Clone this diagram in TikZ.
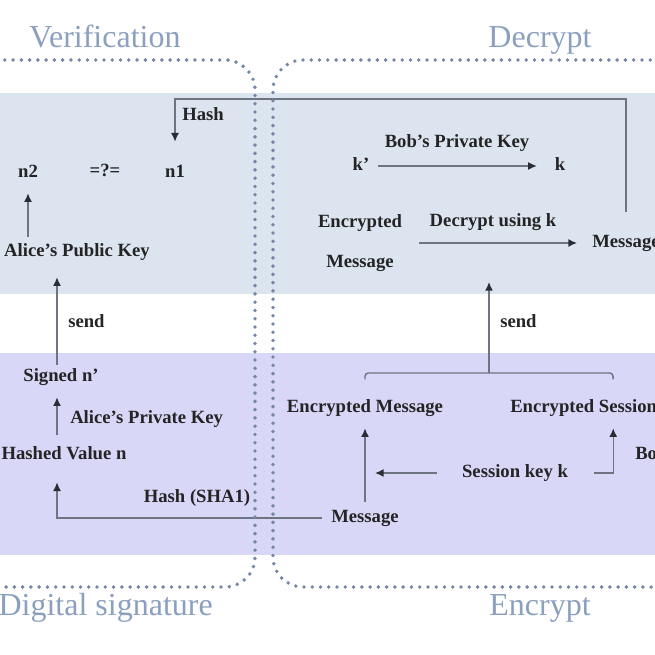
\documentclass[tikz,border=0pt]{standalone}
\usepackage{fontspec}
\setmainfont{Liberation Serif}
\usetikzlibrary{arrows.meta,calc}
\definecolor{bandA}{HTML}{DCE4F0}
\definecolor{bandB}{HTML}{D9D7F8}
\definecolor{dotc}{HTML}{7587A6}
\definecolor{ttlc}{HTML}{8B9FBE}
\definecolor{arrc}{HTML}{6E7480}
\definecolor{tipc}{HTML}{2A2D33}
\definecolor{txtc}{HTML}{242424}
\begin{document}
\begin{tikzpicture}[x=0.75pt,y=-0.75pt,
  lblf/.style={font=\bfseries\fontsize{14}{30}\selectfont, text=txtc, inner sep=0pt},
  lbl/.style={lblf, text height=9.8pt, text depth=2.8pt},
  ttl/.style={font=\fontsize{24}{28}\selectfont, text=ttlc, inner sep=0pt, anchor=base},
  conn/.style={draw=arrc, line width=1.1pt},
  arr/.style={conn, -{Latex[length=6.5pt,width=6pt,color=tipc]}},
  dots/.style={draw=dotc, line width=2.9pt, line cap=round, dash pattern=on 0pt off 6.2pt}]
\useasboundingbox (0,0) rectangle (655,655);
\clip (0,0) rectangle (655,655);
% bands
\fill[bandA] (-10,93) rectangle (665,294);
\fill[bandB] (-10,353) rectangle (665,555);
% titles
\node[ttl] (tver) at (105,48) {Verification};
\node[ttl] (tdec) at (540,48) {Decrypt};
\node[ttl, anchor=base east] (tsig) at (213,615) {Digital signature};
\node[ttl] (tenc) at (540,615) {Encrypt};
% main nodes
\node[lbl] (n2) at (28,173) {n2};
\node[lbl] (eq) at (105,172) {=?=};
\node[lbl] (n1) at (175,173) {n1};
\node[lbl] (apk) at (77,252) {Alice’s Public Key};
\node[lbl] (sgn) at (61,377) {Signed n’};
\node[lbl] (hv) at (64,455) {Hashed Value n};
\node[lbl] (msgL) at (365,518) {Message};
\node[lbl] (em) at (365,408) {Encrypted Message};
\node[lbl, anchor=west] (es) at (510,408) {Encrypted Session Key};
\node[lbl] (sk) at (515,473) {Session key k};
\node[lbl, anchor=west] (bo) at (635,455) {Bob’s Public Key};
\node[lblf, align=center] (emtop) at (360,243) {Encrypted\\Message};
\node[lbl] (kp) at (361,166) {k’};
\node[lbl] (kk) at (560,166) {k};
\node[lbl, anchor=west] (msgR) at (592,243) {Message};
% edge labels
\node[lbl, anchor=west] (lhash) at (182,116) {Hash};
\node[lbl, anchor=west] (lsend1) at (68,323) {send};
\node[lbl, anchor=west] (lapk) at (70,419) {Alice’s Private Key};
\node[lbl] (lsha) at (197,498) {Hash (SHA1)};
\node[lbl] (lbpk) at (457,143) {Bob’s Private Key};
\node[lbl] (ldec) at (493,222) {Decrypt using k};
\node[lbl, anchor=west] (lsend2) at (500,323) {send};
% coordinates
\coordinate (htop) at (400,99);
\coordinate (brk) at (489,373);
\coordinate (sendtip) at (489,282);
% connectors
\draw[arr, shorten <=17pt, shorten >=17pt] (msgR.north) |- (htop) -| (n1.north);
\draw[arr, shorten <=5pt, shorten >=8.7pt] (n2 |- apk.north) -- (n2.south);
\draw[arr, shorten <=2.7pt, shorten >=12.4pt] ([xshift=-3pt]sgn.north) -- ([xshift=-3pt]sgn.north |- apk.south);
\draw[arr, shorten <=8.7pt, shorten >=8.7pt] ([xshift=-3pt]sgn.south |- hv.north) -- ([xshift=-3pt]sgn.south);
\draw[arr, shorten <=7pt, shorten >=14pt] (msgL.west) -| ([xshift=-3pt]sgn.south |- hv.south);
\draw[arr, shorten <=5.7pt, shorten >=8.7pt] (msgL.north) -- (em.south);
\draw[arr, shorten <=18.8pt, shorten >=7.5pt] (sk.west) -- (sk.west -| em.south);
\draw[arr, shorten <=19.5pt, shorten >=8.7pt] (sk.east) -| ([xshift=8.4pt]es.south);
\draw[conn, rounded corners=2.5pt] ($(em.north)+(0,-20)$) |- (brk) -| ($(es.north)+(11,-20)$);
\draw[arr] (brk) -- (sendtip);
\draw[arr, shorten <=6.5pt, shorten >=13.3pt] (kp.east) -- (kk.west);
\draw[arr, shorten <=12.75pt, shorten >=11.25pt] (emtop.east) -- (msgR.west);
% dotted frames
\draw[dots, rounded corners=22.5pt] (-20,60) -- (255,60) -- (255,587) -- (-20,587);
\draw[dots, rounded corners=22.5pt] (675,60) -- (273,60) -- (273,587) -- (675,587);
\end{tikzpicture}
\end{document}
